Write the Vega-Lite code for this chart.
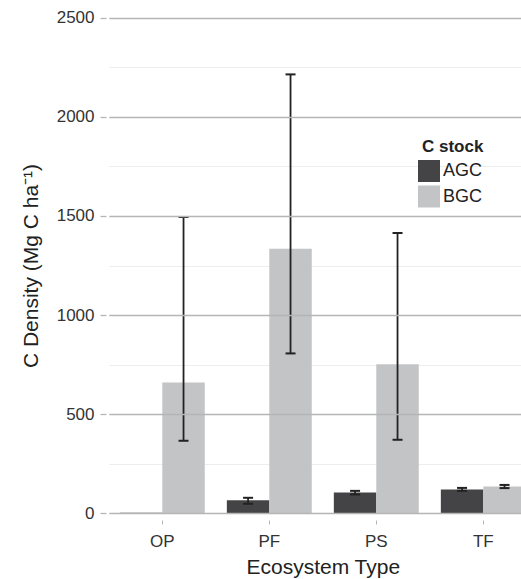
{
  "$schema": "https://vega.github.io/schema/vega-lite/v6.json",
  "width": 415,
  "height": 505,
  "autosize": {"type": "none"},
  "padding": {"left": 106, "top": 13, "right": 0, "bottom": 61},
  "background": "white",
  "config": {"view": {"stroke": null}, "font": "Liberation Sans"},
  "data": {
    "values": [
      {"eco": "OP", "stock": "AGC", "value": 1, "lower": null, "upper": null},
      {"eco": "OP", "stock": "BGC", "value": 659, "lower": 365, "upper": 1495},
      {"eco": "PF", "stock": "AGC", "value": 64, "lower": 47, "upper": 77},
      {"eco": "PF", "stock": "BGC", "value": 1335, "lower": 806, "upper": 2215},
      {"eco": "PS", "stock": "AGC", "value": 104, "lower": 94, "upper": 112},
      {"eco": "PS", "stock": "BGC", "value": 751, "lower": 370, "upper": 1414},
      {"eco": "TF", "stock": "AGC", "value": 119, "lower": 112, "upper": 127},
      {"eco": "TF", "stock": "BGC", "value": 134, "lower": 126, "upper": 142}
    ]
  },
  "encoding": {
    "x": {
      "field": "eco",
      "type": "nominal",
      "sort": ["OP", "PF", "PS", "TF"],
      "scale": {"range": [2.8, 430.8], "paddingInner": 0, "paddingOuter": 0},
      "title": "Ecosystem Type",
      "axis": {
        "domain": false,
        "grid": false,
        "ticks": true,
        "tickSize": 4,
        "tickColor": "#b5b5b5",
        "tickWidth": 1,
        "offset": 2,
        "labelAngle": 0,
        "labelFontSize": 17,
        "labelColor": "#333333",
        "labelPadding": 9,
        "titleFontSize": 21,
        "titleFontWeight": "normal",
        "titleColor": "#222222",
        "titlePadding": 7
      }
    },
    "xOffset": {
      "field": "stock",
      "type": "nominal",
      "scale": {"paddingInner": 0, "paddingOuter": 0.26}
    }
  },
  "layer": [
    {
      "mark": {"type": "bar", "clip": true},
      "encoding": {
        "y": {
          "field": "value",
          "type": "quantitative",
          "scale": {"domain": [-25, 2525], "nice": false, "zero": false},
          "axis": {
            "values": [250, 750, 1250, 1750, 2250],
            "grid": true,
            "gridColor": "#ededed",
            "gridWidth": 1,
            "labels": false,
            "ticks": false,
            "domain": false,
            "title": null
          }
        },
        "color": {
          "field": "stock",
          "type": "nominal",
          "scale": {"domain": ["AGC", "BGC"], "range": ["#444446", "#c3c4c6"]},
          "legend": {
            "title": "C stock",
            "orient": "none",
            "legendX": 312,
            "legendY": 126,
            "titleAnchor": "start",
            "titleAlign": "left",
            "titleFontSize": 17,
            "titleFontWeight": "bold",
            "titleColor": "#222222",
            "titlePadding": 4,
            "labelFontSize": 18,
            "labelColor": "#222222",
            "labelOffset": 3,
            "symbolType": "square",
            "symbolSize": 484,
            "symbolStrokeWidth": 0,
            "symbolOpacity": 1,
            "rowPadding": 3.5,
            "encode": {
              "title": {"update": {"dx": {"value": 4}}},
              "symbols": {
                "update": {
                  "fill": {"signal": "datum.value === 'AGC' ? '#231f20' : '#c3c4c6'"}
                }
              }
            }
          }
        }
      }
    },
    {
      "mark": {"type": "rule", "color": "#222222", "strokeWidth": 1.8, "clip": true},
      "encoding": {
        "y": {
          "field": "lower",
          "type": "quantitative",
          "axis": {
            "orient": "left",
            "values": [0, 500, 1000, 1500, 2000, 2500],
            "format": "d",
            "grid": true,
            "gridColor": "#b5b5b5",
            "gridWidth": 1.3,
            "zindex": 1,
            "domain": false,
            "ticks": true,
            "tickSize": 6,
            "tickColor": "#b5b5b5",
            "tickWidth": 1.3,
            "labelFontSize": 17,
            "labelColor": "#333333",
            "labelPadding": 6,
            "title": "C Density (Mg C ha⁻¹)",
            "titleFontSize": 21,
            "titleFontWeight": "normal",
            "titleColor": "#222222",
            "titlePadding": 15
          }
        },
        "y2": {"field": "upper"}
      }
    },
    {
      "mark": {"type": "tick", "color": "#222222", "size": 10, "thickness": 2, "opacity": 1, "clip": true},
      "encoding": {
        "y": {"field": "lower", "type": "quantitative", "axis": null}
      }
    },
    {
      "mark": {"type": "tick", "color": "#222222", "size": 10, "thickness": 2, "opacity": 1, "clip": true},
      "encoding": {
        "y": {"field": "upper", "type": "quantitative", "axis": null}
      }
    }
  ],
  "resolve": {"axis": {"y": "independent"}}
}
